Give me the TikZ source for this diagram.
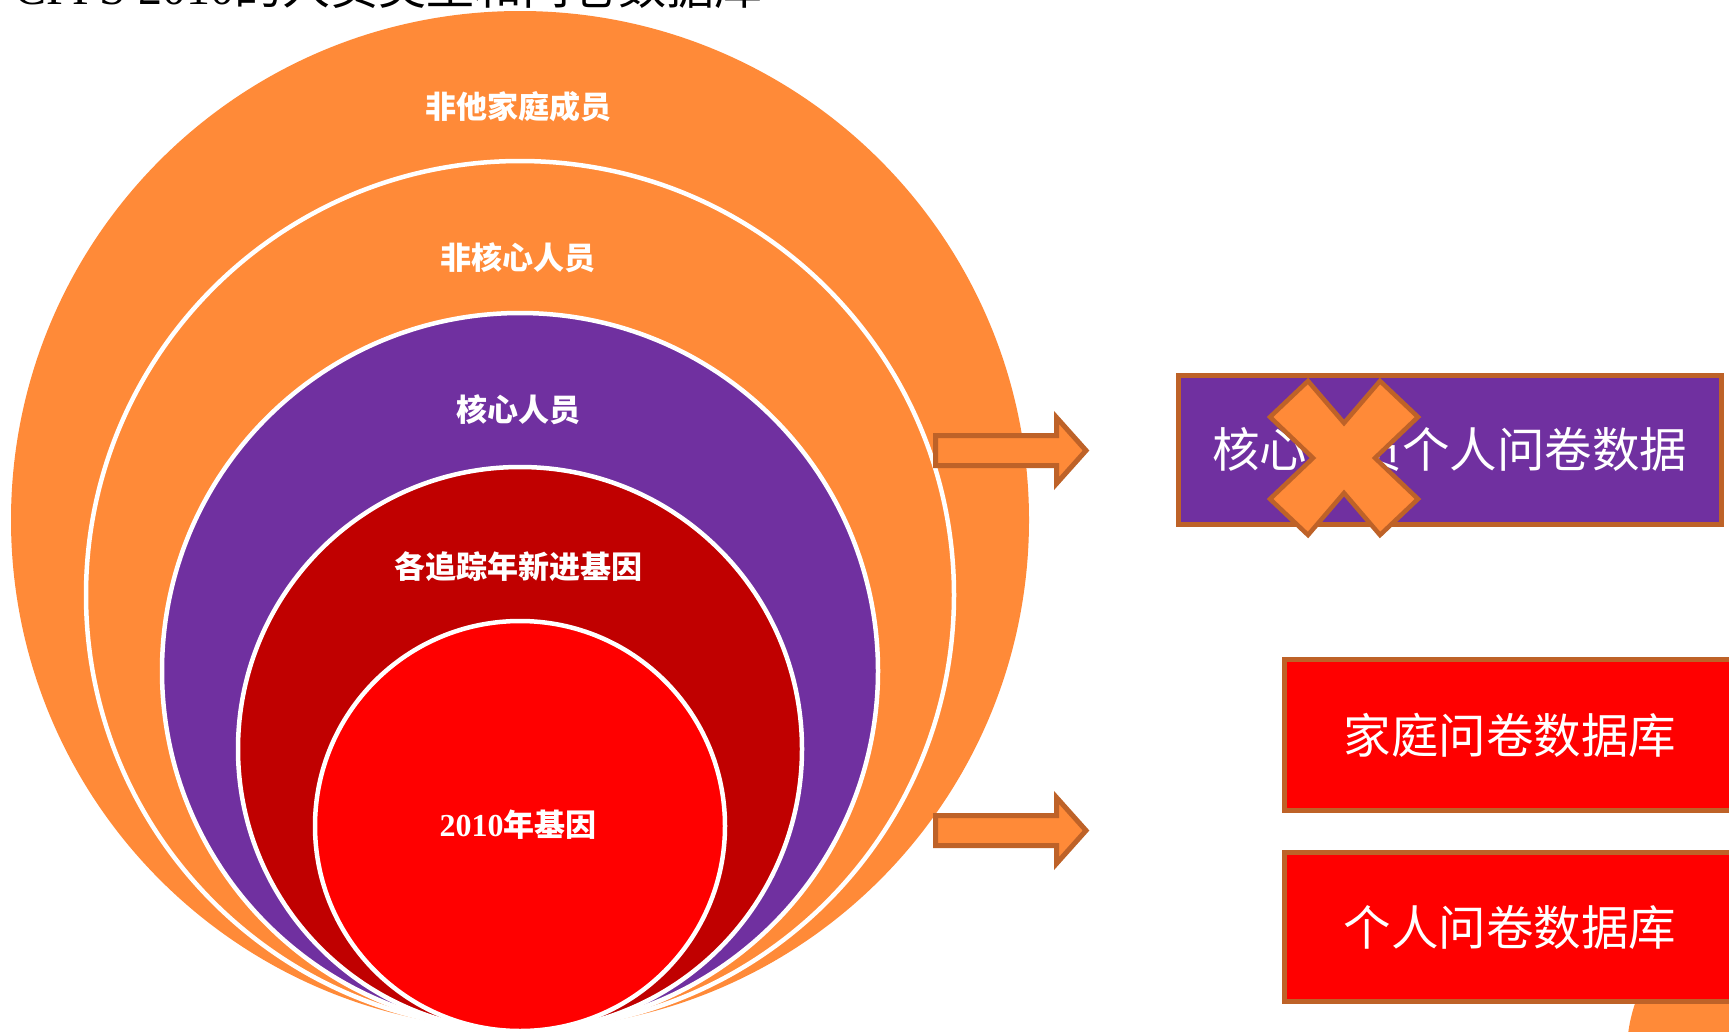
\documentclass[tikz,border=0pt]{standalone}
\usepackage{fontspec}
\setmainfont{Liberation Serif}
\newfontfamily\cjk{Noto Sans CJK SC}
\definecolor{orng}{HTML}{FF8A38}
\definecolor{brownline}{HTML}{BE6228}
\definecolor{purp}{HTML}{7030A0}
\definecolor{dred}{HTML}{C00000}
\definecolor{rred}{HTML}{FF0000}
\begin{document}
\begin{tikzpicture}[x=1pt,y=-1pt,
  disc/.style={circle, inner sep=0pt},
  ring/.style={circle, inner sep=0pt, draw=white, line width=4.5pt},
  lbl/.style={text=white, inner sep=0pt, font=\cjk\bfseries\fontsize{31}{34}\selectfont},
  box/.style={rectangle, draw=brownline, line width=5pt, inner sep=0pt, text=white, font=\cjk\fontsize{47.5}{50}\selectfont},
  arr/.style={fill=orng, draw=brownline, line width=5pt, line join=miter}]
\useasboundingbox (0,0) rectangle (1729,1031);
\clip (0,0) rectangle (1729,1031);
% title (cropped at the top, as in the reference)
\node[anchor=base west, inner sep=0pt, font=\fontsize{48}{52}\selectfont] (title) at (14,4) {CFPS 2010{\cjk 的人员类型和问卷数据库}};
% nested circles
\node[disc, fill=orng, minimum size=1018pt] (c1) at (520,520) {};
\node[ring, fill=orng, minimum size=868pt] (c2) at (520,595) {};
\node[ring, fill=purp, minimum size=716pt] (c3) at (520,671) {};
\node[ring, fill=dred, minimum size=564pt] (c4) at (520,749) {};
\node[ring, fill=rred, minimum size=410pt] (c5) at (520,826) {};
\node[lbl] (l1) at (518,107) {非他家庭成员};
\node[lbl] (l2) at (518,258) {非核心人员};
\node[lbl] (l3) at (518,410) {核心人员};
\node[lbl] (l4) at (518,567) {各追踪年新进基因};
\node[lbl] (l5) at (518,825) {{\rmfamily\fontsize{32}{34}\selectfont 2010}年基因};
% arrows
\draw[arr] (935.5,435.5) -- (1056.5,435.5) -- (1056.5,417.5) -- (1086,450.5) -- (1056.5,483.5) -- (1056.5,465.5) -- (935.5,465.5) -- cycle;
\draw[arr] (935.5,815.5) -- (1056.5,815.5) -- (1056.5,797.5) -- (1086,830.5) -- (1056.5,863.5) -- (1056.5,845.5) -- (935.5,845.5) -- cycle;
% bottom-right orange shape
\node[disc, fill=orng, minimum size=300pt] (corner) at (1777,1052) {};
% boxes
\node[box, fill=purp, minimum width=543pt, minimum height=149pt] (pbox) at (1449.5,450) {核心成员个人问卷数据};
\node[box, fill=rred, minimum width=452pt, minimum height=151pt] (fbox) at (1510,735) {家庭问卷数据库};
\node[box, fill=rred, minimum width=452pt, minimum height=149pt] (ibox) at (1510,927) {个人问卷数据库};
% cross over the purple box
\begin{scope}[shift={(1344,458)}]
\draw[arr, line width=4.5pt] (-36,-77) -- (0,-35) -- (36,-77) -- (74,-41) -- (31,0) -- (74,41) -- (36,77) -- (0,35) -- (-36,77) -- (-74,41) -- (-31,0) -- (-74,-41) -- cycle;
\end{scope}
\end{tikzpicture}
\end{document}
